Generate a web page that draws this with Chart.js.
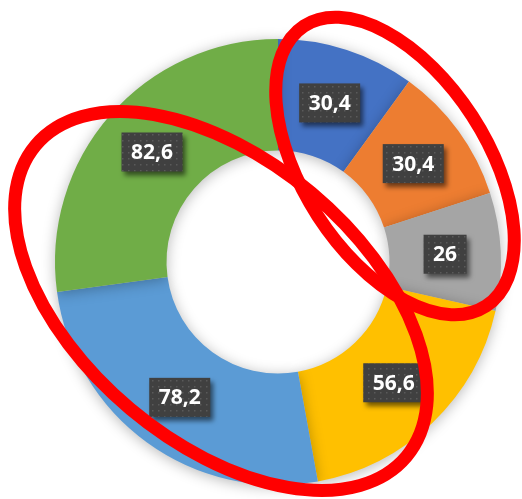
<!DOCTYPE html>
<html>
<head>
<meta charset="utf-8">
<script src="https://cdn.jsdelivr.net/npm/chart.js@4.4.0/dist/chart.umd.min.js"></script>
<style>
  html, body { margin: 0; padding: 0; background: #fff; }
  #wrap { width: 522px; height: 499px; }
</style>
</head>
<body>
<div id="wrap"><canvas id="donut"></canvas></div>
<script>
// Data
const categories = ['1', '2', '3', '4', '5', '6'];
const values = [30.4, 30.4, 26, 56.6, 78.2, 82.6];
const sliceColors = ['#4472C4', '#ED7D31', '#A5A5A5', '#FFC000', '#5B9BD5', '#70AD47'];

// Red hand-drawn style ellipses (relative to chart centre, px)
const marks = [
    { dx: 117, dy: -96, rx: 167, ry: 92, angle: 57 },
    { dx: -57, dy: 39, rx: 242, ry: 141, angle: 40 }
];

// Dotted fill used by the label boxes
function makeDotPattern(ctx) {
    const c = document.createElement('canvas');
    c.width = 6; c.height = 6;
    const p = c.getContext('2d');
    p.fillStyle = '#404040';
    p.fillRect(0, 0, 6, 6);
    p.fillStyle = '#5a5a5a';
    p.fillRect(2, 2, 1.5, 1.5);
    return ctx.createPattern(c, 'repeat');
}

// Soft shadow under the ring
const ringShadow = {
    id: 'ringShadow',
    beforeDatasetDraw(chart) {
        const ctx = chart.ctx;
        ctx.save();
        ctx.shadowColor = 'rgba(0, 0, 0, 0.28)';
        ctx.shadowBlur = 14;
        ctx.shadowOffsetX = 0;
        ctx.shadowOffsetY = 2;
    },
    afterDatasetDraw(chart) {
        chart.ctx.restore();
    }
};

// Value labels in dark boxes
const boxLabels = {
    id: 'boxLabels',
    afterDatasetsDraw(chart) {
        const ctx = chart.ctx;
        const meta = chart.getDatasetMeta(0);
        const pattern = makeDotPattern(ctx);
        ctx.save();
        ctx.font = 'bold 21px "Open Sans", sans-serif';
        ctx.textAlign = 'center';
        ctx.textBaseline = 'middle';
        meta.data.forEach((arc, i) => {
            const pos = arc.tooltipPosition();
            const text = String(values[i]).replace('.', ',');
            const w = ctx.measureText(text).width + 19;
            const h = 39;
            const x = pos.x - w / 2;
            const y = pos.y - h / 2;
            ctx.save();
            ctx.shadowColor = 'rgba(0, 0, 0, 0.55)';
            ctx.shadowBlur = 5;
            ctx.shadowOffsetX = 3;
            ctx.shadowOffsetY = 4;
            ctx.fillStyle = pattern;
            ctx.fillRect(x, y, w, h);
            ctx.restore();
            ctx.fillStyle = '#ffffff';
            ctx.fillText(text, pos.x, pos.y + 1);
        });
        ctx.restore();
    }
};

// Red ellipses drawn over the chart
const redMarks = {
    id: 'redMarks',
    afterDraw(chart) {
        const ctx = chart.ctx;
        const arc = chart.getDatasetMeta(0).data[0];
        if (!arc) return;
        ctx.save();
        ctx.strokeStyle = '#FF0000';
        ctx.lineWidth = 13;
        marks.forEach(m => {
            ctx.beginPath();
            ctx.ellipse(arc.x + m.dx, arc.y + m.dy, m.rx, m.ry, m.angle * Math.PI / 180, 0, Math.PI * 2);
            ctx.stroke();
        });
        ctx.restore();
    }
};

new Chart(document.getElementById('donut'), {
    type: 'doughnut',
    data: {
        labels: categories,
        datasets: [{
            data: values,
            backgroundColor: sliceColors,
            borderWidth: 0,
            hoverOffset: 0
        }]
    },
    options: {
        responsive: true,
        maintainAspectRatio: false,
        animation: false,
        cutout: '50%',
        layout: {
            padding: { left: 55, right: 21, top: 39, bottom: 14 }
        },
        plugins: {
            legend: { display: false },
            tooltip: { enabled: false }
        }
    },
    plugins: [ringShadow, boxLabels, redMarks]
});
</script>
</body>
</html>
